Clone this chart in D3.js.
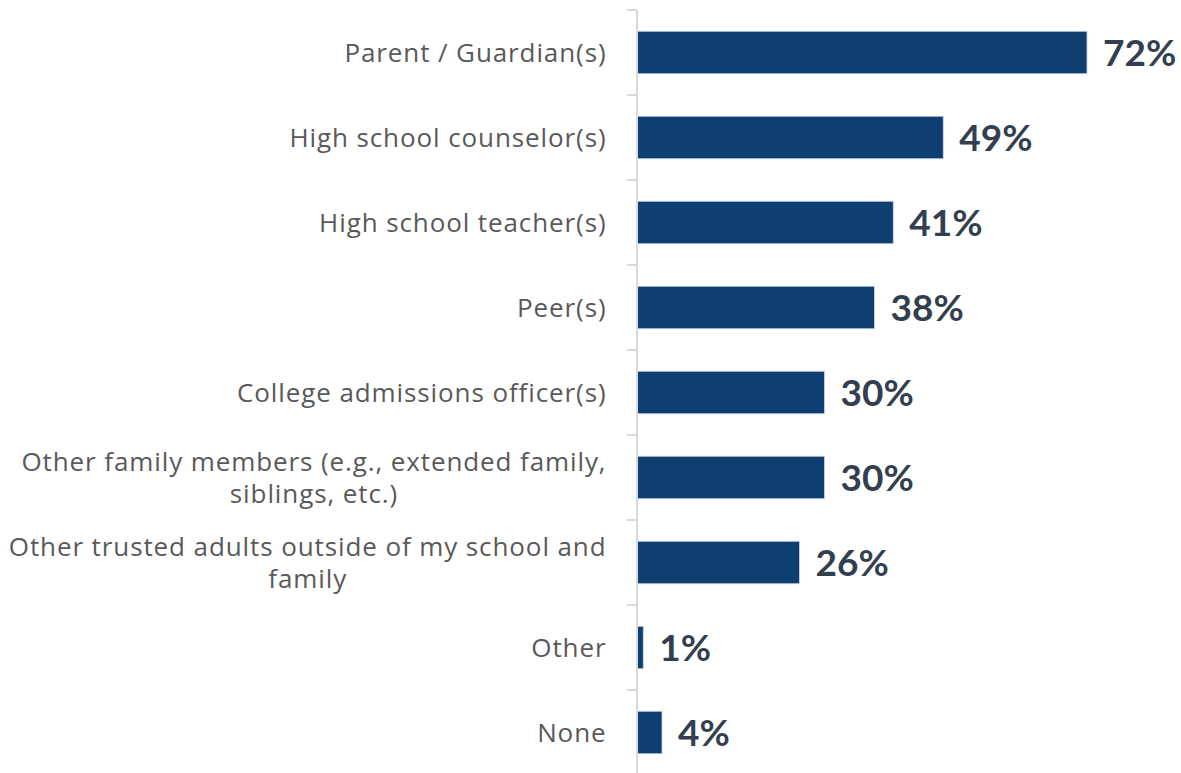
<!DOCTYPE html>
<html>
<head>
<meta charset="utf-8">
<script src="https://cdn.jsdelivr.net/npm/d3@7"></script>
<style>
  html, body { margin: 0; padding: 0; background: #ffffff; }
  svg { display: block; }
</style>
</head>
<body>
<div id="chart"></div>
<script>
// Who students turned to for advice (share of respondents)
const categories = [
  ["Parent / Guardian(s)"],
  ["High school counselor(s)"],
  ["High school teacher(s)"],
  ["Peer(s)"],
  ["College admissions officer(s)"],
  ["Other family members (e.g., extended family,", "siblings, etc.)"],
  ["Other trusted adults outside of my school and", "family"],
  ["Other"],
  ["None"]
];
const values = [72, 49, 41, 38, 30, 30, 26, 1, 4];
const valueLabels = ["72%", "49%", "41%", "38%", "30%", "30%", "26%", "1%", "4%"];

const W = 1181, H = 773;
const axisX = 637;
const labelFont = "'Open Sans', sans-serif";
const valueFont = "Lato, 'Open Sans', sans-serif";

const svg = d3.select("#chart").append("svg")
  .attr("width", W).attr("height", H);

const keys = categories.map((c, i) => i);

const y = d3.scaleBand()
  .domain(keys)
  .range([10, 775])
  .paddingInner(0.5)
  .paddingOuter(0.25);

const x = d3.scaleLinear()
  .domain([0, 72])
  .range([axisX, 1087]);

// bars
svg.append("g").selectAll("rect")
  .data(values)
  .join("rect")
  .attr("x", x(0))
  .attr("y", (d, i) => y(i))
  .attr("width", d => x(d) - x(0))
  .attr("height", y.bandwidth())
  .attr("fill", "#0f3f70")
  .attr("stroke", "#c9d6e6")
  .attr("stroke-width", 0.8);

// category axis with tick marks at band boundaries
const boundaries = d3.range(categories.length).map(i => 10 + i * y.step());
const axisG = svg.append("g");
axisG.append("line")
  .attr("x1", axisX).attr("x2", axisX)
  .attr("y1", 10).attr("y2", H)
  .attr("stroke", "#d9d9d9").attr("stroke-width", 2);
axisG.selectAll("line.tick")
  .data(boundaries)
  .join("line")
  .attr("class", "tick")
  .attr("x1", axisX - 10).attr("x2", axisX)
  .attr("y1", d => d).attr("y2", d => d)
  .attr("stroke", "#d9d9d9").attr("stroke-width", 2);

// category labels: right-aligned block, lines centered within it
const lineGap = 32;
const labels = svg.append("g")
  .attr("font-family", labelFont)
  .attr("font-size", 26)
  .attr("letter-spacing", 0.9)
  .attr("fill", "#595959")
  .attr("text-anchor", "middle");

categories.forEach((lines, i) => {
  const cy = y(i) + y.bandwidth() / 2;
  const t = labels.append("text")
    .attr("y", cy - (lines.length - 1) * lineGap / 2);
  lines.forEach((ln, j) => {
    t.append("tspan")
      .attr("x", 0)
      .attr("dy", j === 0 ? "0.35em" : lineGap)
      .text(ln);
  });
  const bb = t.node().getBBox();
  t.selectAll("tspan").attr("x", 606.5 - bb.width / 2);
});

// value labels
svg.append("g").selectAll("text")
  .data(values)
  .join("text")
  .attr("x", d => x(d) + 16)
  .attr("y", (d, i) => y(i) + y.bandwidth() / 2)
  .attr("dy", "0.36em")
  .attr("font-family", valueFont)
  .attr("font-size", 37)
  .attr("font-weight", 700)
  .attr("fill", "#333f4f")
  .text((d, i) => valueLabels[i]);
</script>
</body>
</html>
